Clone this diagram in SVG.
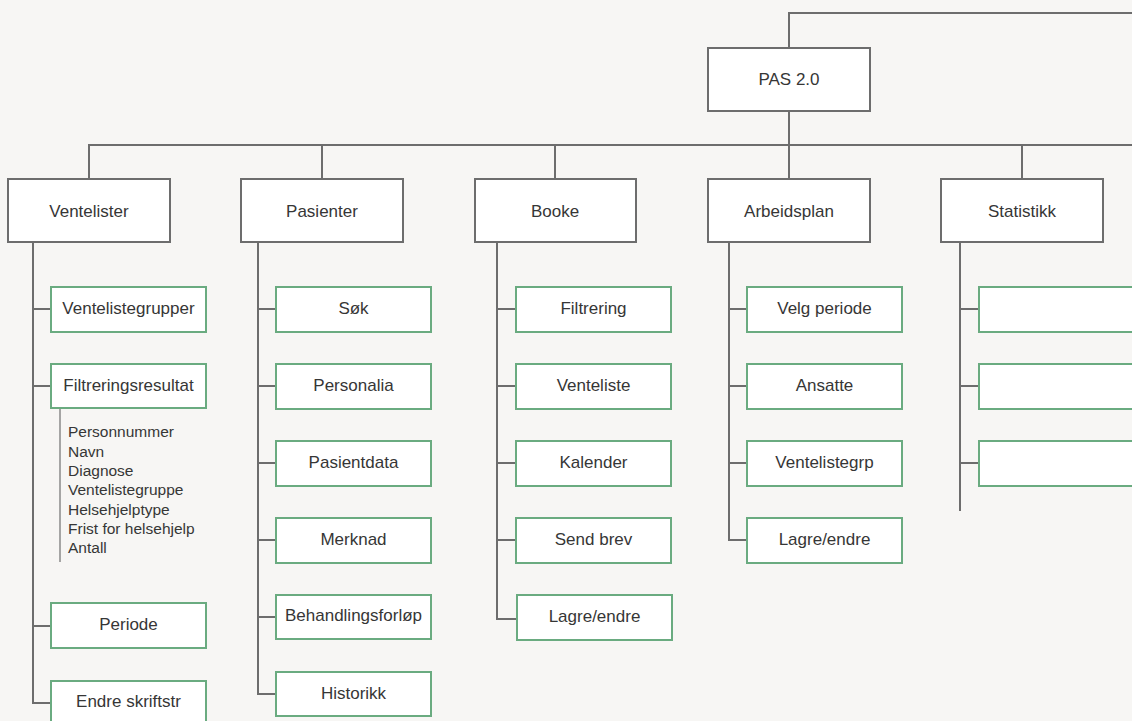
<svg xmlns="http://www.w3.org/2000/svg" width="1132" height="721" viewBox="0 0 1132 721">
<style>
.bg{fill:#f7f6f4}
.top rect{fill:#fff;stroke:#6d6d6d;stroke-width:2}
.sub rect{fill:#fff;stroke:#6aab80;stroke-width:2}
text{font-family:"Liberation Sans",Arial,sans-serif;font-size:17px;fill:#363636;text-anchor:middle}
.list text{font-size:15.5px;text-anchor:start}
.conn path{fill:none;stroke:#6d6d6d;stroke-width:2}
.conn .thin{stroke:#8a8a8a;stroke-width:1.5}
</style>
<rect class="bg" x="0" y="0" width="1132" height="721"/>
<g class="conn">
<path d="M789 48V13H1132"/>
<path d="M789 111V145"/>
<path d="M89 179V145H1132"/>
<path d="M322 145V179M555 145V179M789 145V179M1022 145V179"/>
<path d="M33 240V703H51M33 309H51M33 386H51M33 626H51"/>
<path class="thin" d="M60 408V562"/>
<path d="M258 240V694H276M258 309H276M258 386H276M258 463H276M258 540H276M258 617H276"/>
<path d="M497 240V619H517M497 309H516M497 386H516M497 463H516M497 540H516"/>
<path d="M729 240V540H747M729 309H747M729 386H747M729 463H747"/>
<path d="M960 240V511M960 309H979M960 386H979M960 463H979"/>
</g>
<g id="pas" class="top"><rect x="708" y="48" width="162" height="63"/><text x="789" y="85">PAS 2.0</text></g>
<g id="ventelister" class="top"><rect x="8" y="179" width="162" height="63"/><text x="89" y="217">Ventelister</text></g>
<g id="pasienter" class="top"><rect x="241" y="179" width="162" height="63"/><text x="322" y="217">Pasienter</text></g>
<g id="booke" class="top"><rect x="475" y="179" width="161" height="63"/><text x="555" y="217">Booke</text></g>
<g id="arbeidsplan" class="top"><rect x="708" y="179" width="162" height="63"/><text x="789" y="217">Arbeidsplan</text></g>
<g id="statistikk" class="top"><rect x="941" y="179" width="162" height="63"/><text x="1022" y="217">Statistikk</text></g>

<g id="ventelistegrupper" class="sub"><rect x="51" y="287" width="155" height="45"/><text x="128.5" y="314">Ventelistegrupper</text></g>
<g id="filtreringsresultat" class="sub"><rect x="51" y="364" width="155" height="44"/><text x="128.5" y="391">Filtreringsresultat</text></g>
<g id="filtreringsliste" class="list">
<text x="68" y="437">Personnummer</text>
<text x="68" y="456.5">Navn</text>
<text x="68" y="476">Diagnose</text>
<text x="68" y="495">Ventelistegruppe</text>
<text x="68" y="514.5">Helsehjelptype</text>
<text x="68" y="534">Frist for helsehjelp</text>
<text x="68" y="553">Antall</text>
</g>
<g id="periode" class="sub"><rect x="51" y="603" width="155" height="45"/><text x="128.5" y="630">Periode</text></g>
<g id="endre-skriftstr" class="sub"><rect x="51" y="681" width="155" height="45"/><text x="128.5" y="707">Endre skriftstr</text></g>

<g id="sok" class="sub"><rect x="276" y="287" width="155" height="45"/><text x="353.5" y="314">Søk</text></g>
<g id="personalia" class="sub"><rect x="276" y="364" width="155" height="45"/><text x="353.5" y="391">Personalia</text></g>
<g id="pasientdata" class="sub"><rect x="276" y="441" width="155" height="45"/><text x="353.5" y="468">Pasientdata</text></g>
<g id="merknad" class="sub"><rect x="276" y="518" width="155" height="45"/><text x="353.5" y="545">Merknad</text></g>
<g id="behandlingsforlop" class="sub"><rect x="276" y="595" width="155" height="44"/><text x="353.5" y="621">Behandlingsforløp</text></g>
<g id="historikk" class="sub"><rect x="276" y="672" width="155" height="44"/><text x="353.5" y="699">Historikk</text></g>

<g id="filtrering" class="sub"><rect x="516" y="287" width="155" height="45"/><text x="593.5" y="314">Filtrering</text></g>
<g id="venteliste" class="sub"><rect x="516" y="364" width="155" height="45"/><text x="593.5" y="391">Venteliste</text></g>
<g id="kalender" class="sub"><rect x="516" y="441" width="155" height="45"/><text x="593.5" y="468">Kalender</text></g>
<g id="send-brev" class="sub"><rect x="516" y="518" width="155" height="45"/><text x="593.5" y="545">Send brev</text></g>
<g id="booke-lagre" class="sub"><rect x="517" y="595" width="155" height="45"/><text x="594.5" y="622">Lagre/endre</text></g>

<g id="velg-periode" class="sub"><rect x="747" y="287" width="155" height="45"/><text x="824.5" y="314">Velg periode</text></g>
<g id="ansatte" class="sub"><rect x="747" y="364" width="155" height="45"/><text x="824.5" y="391">Ansatte</text></g>
<g id="ventelistegrp" class="sub"><rect x="747" y="441" width="155" height="45"/><text x="824.5" y="468">Ventelistegrp</text></g>
<g id="arbeidsplan-lagre" class="sub"><rect x="747" y="518" width="155" height="45"/><text x="824.5" y="545">Lagre/endre</text></g>

<g id="stat-1" class="sub"><rect x="979" y="287" width="160" height="45"/></g>
<g id="stat-2" class="sub"><rect x="979" y="364" width="160" height="45"/></g>
<g id="stat-3" class="sub"><rect x="979" y="441" width="160" height="45"/></g>
</svg>
